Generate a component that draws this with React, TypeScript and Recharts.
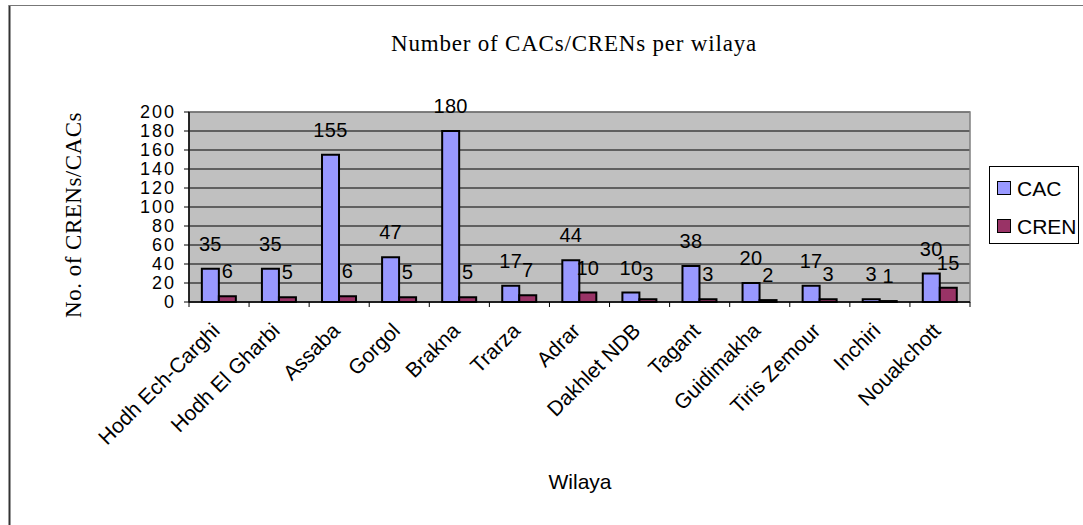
import { Bar, BarChart, CartesianGrid, LabelList, ReferenceArea, XAxis, YAxis } from "recharts";

const wilayas = [
  "Hodh Ech-Carghi",
  "Hodh El Gharbi",
  "Assaba",
  "Gorgol",
  "Brakna",
  "Trarza",
  "Adrar",
  "Dakhlet NDB",
  "Tagant",
  "Guidimakha",
  "Tiris Zemour",
  "Inchiri",
  "Nouakchott",
];
const cacCounts = [35, 35, 155, 47, 180, 17, 44, 10, 38, 20, 17, 3, 30];
const crenCounts = [6, 5, 6, 5, 5, 7, 10, 3, 3, 2, 3, 1, 15];
const yTicks = [0, 20, 40, 60, 80, 100, 120, 140, 160, 180, 200];

const W = 1083;
const H = 525;
const PLOT_LEFT = 189;
const PLOT_RIGHT = 970;
const PLOT_TOP = 112;
const PLOT_BOTTOM = 302;
const BAND = (PLOT_RIGHT - PLOT_LEFT) / wilayas.length;

const SANS = "'Liberation Sans', Arial, sans-serif";
const SERIF = "'Liberation Serif', 'Times New Roman', serif";

const data = wilayas.map((name, i) => ({ name, CAC: cacCounts[i], CREN: crenCounts[i] }));

function XTick(props: any) {
  const { x, payload, index } = props;
  const isLast = index === wilayas.length - 1;
  const tx = x + 2;
  const ty = PLOT_BOTTOM + 30;
  return (
    <g>
      <line x1={x - BAND / 2} x2={x - BAND / 2} y1={PLOT_BOTTOM} y2={PLOT_BOTTOM + 5} stroke="#000" />
      {isLast && (
        <line x1={x + BAND / 2} x2={x + BAND / 2} y1={PLOT_BOTTOM} y2={PLOT_BOTTOM + 5} stroke="#000" />
      )}
      <text
        x={tx}
        y={ty}
        textAnchor="end"
        transform={`rotate(-45, ${tx}, ${ty})`}
        fontFamily={SANS}
        fontSize={21}
        fill="#000"
      >
        {payload.value}
      </text>
    </g>
  );
}

function YTick(props: any) {
  const { x, y, payload } = props;
  return (
    <text
      x={x}
      y={y}
      textAnchor="end"
      dominantBaseline="central"
      fontFamily={SANS}
      fontSize={18}
      letterSpacing={2}
      fill="#000"
    >
      {payload.value}
    </text>
  );
}

const labelStyle = { fill: "#000", fontFamily: SANS, fontSize: 20, letterSpacing: 0.3 };

export default function App() {
  return (
    <div style={{ position: "absolute", left: 0, top: 0, width: W, height: H, background: "#fff" }}>
      <BarChart
        width={W}
        height={H}
        data={data}
        margin={{ top: PLOT_TOP, right: W - PLOT_RIGHT, bottom: H - PLOT_BOTTOM - 30, left: 0 }}
        barCategoryGap="21.4%"
        barGap={0}
      >
        <CartesianGrid vertical={false} stroke="#000" fill="#C0C0C0" fillOpacity={1} />
        <ReferenceArea y1={0} y2={200} fill="none" stroke="#808080" strokeWidth={1.5} />
        <XAxis
          dataKey="name"
          height={30}
          interval={0}
          tickLine={false}
          axisLine={{ stroke: "#000", strokeWidth: 1.5 }}
          tick={<XTick />}
        />
        <YAxis
          width={PLOT_LEFT}
          domain={[0, 200]}
          ticks={yTicks}
          interval={0}
          tickSize={5}
          tickMargin={8}
          tickLine={{ stroke: "#000" }}
          axisLine={{ stroke: "#000", strokeWidth: 1.5 }}
          tick={<YTick />}
        />
        <Bar dataKey="CAC" fill="#9999FF" stroke="#000" strokeWidth={2} isAnimationActive={false}>
          <LabelList dataKey="CAC" position="top" offset={18} {...labelStyle} />
        </Bar>
        <Bar dataKey="CREN" fill="#993366" stroke="#000" strokeWidth={2} isAnimationActive={false}>
          <LabelList dataKey="CREN" position="top" offset={18} {...labelStyle} />
        </Bar>
      </BarChart>

      <svg
        width={W}
        height={H}
        style={{ position: "absolute", left: 0, top: 0, pointerEvents: "none" }}
      >
        <line x1={9.5} x2={9.5} y1={5} y2={H} stroke="#333" strokeWidth={2} />
        <line x1={9} x2={W} y1={5.5} y2={5.5} stroke="#777" strokeWidth={1} />
        <text x={574} y={51} textAnchor="middle" fontFamily={SERIF} fontSize={23} letterSpacing={0.8} fill="#000">
          Number of CACs/CRENs per wilaya
        </text>
        <text
          x={73}
          y={215}
          textAnchor="middle"
          dominantBaseline="central"
          transform="rotate(-90, 73, 215)"
          fontFamily={SERIF}
          fontSize={23}
          letterSpacing={0.5}
          fill="#000"
        >
          No. of CRENs/CACs
        </text>
        <text x={580} y={481} textAnchor="middle" dominantBaseline="central" fontFamily={SANS} fontSize={21} fill="#000">
          Wilaya
        </text>
        <rect x={989.5} y={166.5} width={89} height={77} fill="#fff" stroke="#000" />
        <rect x={997.5} y={181.5} width={13} height={13} fill="#9999FF" stroke="#000" />
        <text x={1017} y={188} dominantBaseline="central" fontFamily={SANS} fontSize={21} fill="#000">
          CAC
        </text>
        <rect x={997.5} y={219.5} width={13} height={13} fill="#993366" stroke="#000" />
        <text x={1017} y={226} dominantBaseline="central" fontFamily={SANS} fontSize={21} fill="#000">
          CREN
        </text>
      </svg>
    </div>
  );
}
